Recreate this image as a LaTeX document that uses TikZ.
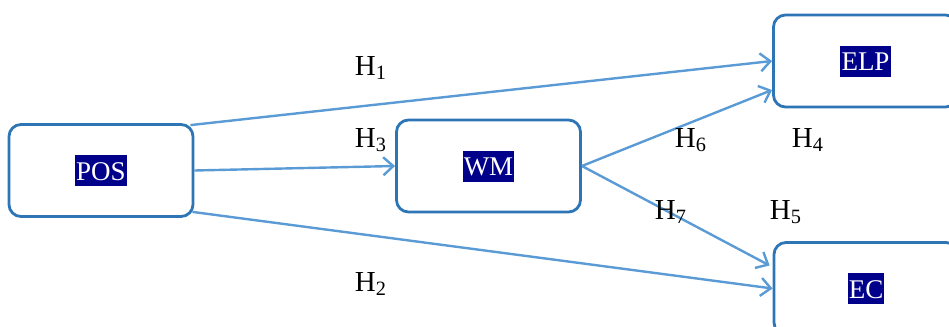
\documentclass[tikz,border=0pt]{standalone}
\usepackage{fontspec}
\setmainfont{Liberation Serif}
\usepackage{xcolor}
\usetikzlibrary{arrows.meta, positioning}
\definecolor{boxblue}{RGB}{46,117,182}
\definecolor{arrowblue}{RGB}{91,155,213}
\definecolor{navy}{RGB}{0,0,139}
\newcommand{\tagtext}[1]{{\setlength{\fboxsep}{0pt}\colorbox{navy}{\textcolor{white}{\rule[-3pt]{0pt}{15.5pt}\kern0.6pt#1\kern0.6pt}}}}

\begin{document}
\begin{tikzpicture}[
        x=0.5pt, y=-0.5pt,
        % Set the overall look of the boxes and arrows
        var/.style={draw=boxblue, line width=1.4pt, rounded corners=6pt,
            minimum width=92pt, minimum height=46pt, inner sep=0pt,
            font=\fontsize{13.5}{15}\selectfont},
        path/.style={draw=arrowblue, line width=1.2pt,
            -{Straight Barb[length=5pt, width=9pt, line width=1.2pt]}},
        hyp/.style={font=\fontsize{14.5}{16}\selectfont, inner sep=0pt}
    ]
    \useasboundingbox (0,0) rectangle (949,327);
    % the four variables
    \node [var] (pos) at (101,170.5) {\tagtext{POS}};
    \node [var] (wm) at (488.5,166) {\tagtext{WM}};
    \node [var] (elp) at (865.5,61) {\tagtext{ELP}};
    \node [var] (ec) at (866,288.5) {\tagtext{EC}};
    % the paths between them
    \draw [path] ([shift={(-4,2)}]pos.north east) -- (elp.west);
    \draw [path] (pos.east) -- (wm.west);
    \draw [path] ([shift={(-2,-6)}]pos.south east) -- (ec.west);
    \draw [path] (wm.east) -- ([shift={(0,29)}]elp.west);
    \draw [path] (wm.east) -- ([shift={(-3,-23)}]ec.west);
    % hypothesis labels
    \node [hyp] (h1) at (371,68) {H\textsubscript{1}};
    \node [hyp] (h3) at (371,140) {H\textsubscript{3}};
    \node [hyp] (h2) at (371,284) {H\textsubscript{2}};
    \node [hyp] (h6) at (691,140) {H\textsubscript{6}};
    \node [hyp] (h4) at (808,140) {H\textsubscript{4}};
    \node [hyp] (h7) at (671,212) {H\textsubscript{7}};
    \node [hyp] (h5) at (786,212) {H\textsubscript{5}};
\end{tikzpicture}
\end{document}
